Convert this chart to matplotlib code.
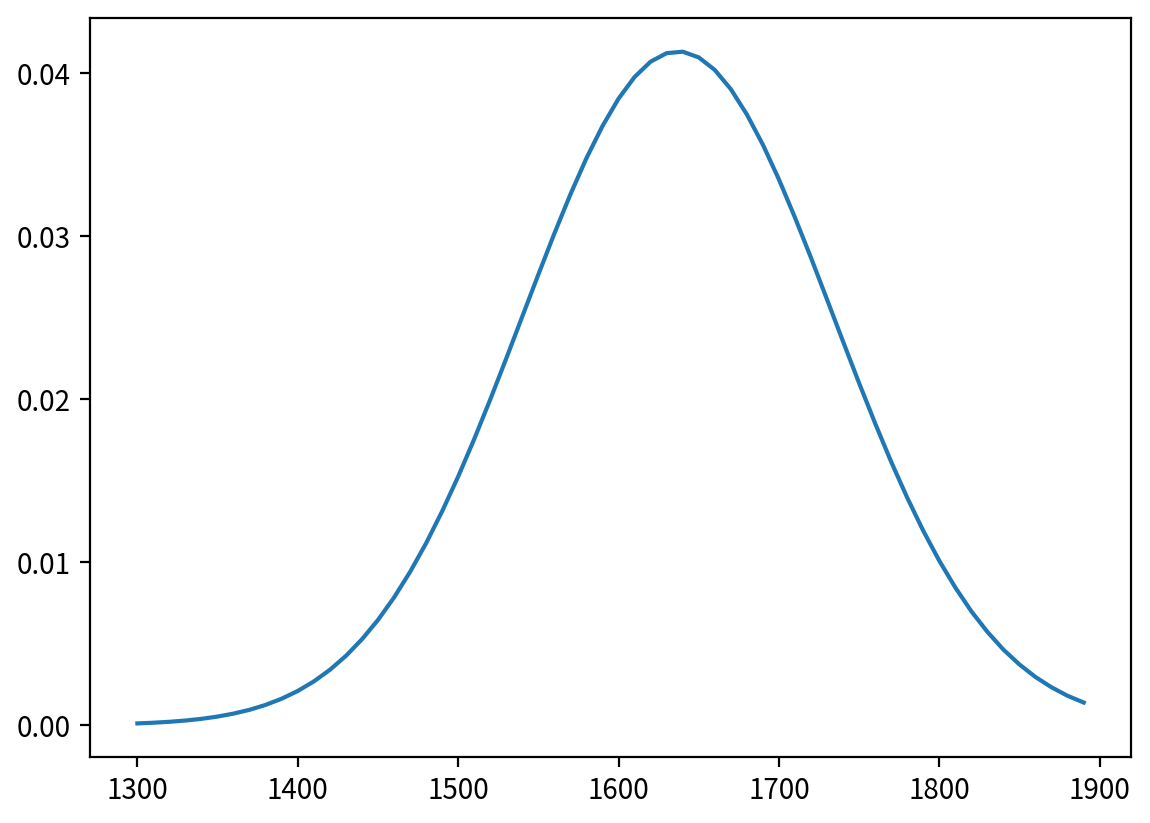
import matplotlib
matplotlib.use("Agg")
import matplotlib.pyplot as plt

plt.rcParams['font.family'] = ['Noto Sans CJK JP', 'DejaVu Sans']

x_values = list(range(1300, 1900, 10))
y_values = [
    0.0000989, 0.000141, 0.000198, 0.000276, 0.000380, 0.000519, 0.000701, 0.000935,
    0.001236, 0.001616, 0.002089, 0.002674, 0.003385, 0.004240, 0.005257, 0.006443,
    0.007820, 0.009390, 0.01115, 0.01311, 0.01524, 0.01754, 0.01997, 0.02249,
    0.02507, 0.02764, 0.03016, 0.03256, 0.03478, 0.03675, 0.03843, 0.03976,
    0.04070, 0.04122, 0.04131, 0.04096, 0.04019, 0.03901, 0.03746, 0.03560,
    0.03347, 0.03113, 0.02866, 0.02610, 0.02352, 0.02097, 0.01850, 0.01614,
    0.01394, 0.01191, 0.01007, 0.00843, 0.00697, 0.00571, 0.00462, 0.00371,
    0.00294, 0.00231, 0.00179, 0.00138,
]

fig = plt.figure(figsize=(5.75, 4.115), dpi=200)
ax = fig.add_axes([0.0783, 0.0802, 0.9052, 0.8978])
ax.plot(x_values, y_values, color='#1f77b4', linewidth=1.5)
ax.tick_params(labelsize=10)
fig.savefig('out.png', dpi=200)
